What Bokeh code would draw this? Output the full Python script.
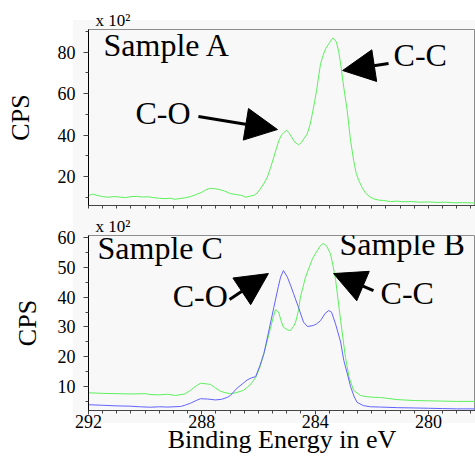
import numpy as np
from bokeh.plotting import figure
from bokeh.layouts import column
from bokeh.models import Range1d, FixedTicker, Label, Arrow, NormalHead, Title
from bokeh.embed import file_html
from bokeh.resources import INLINE

# ---------------- data ----------------
# Sample A (top panel), binding energy (eV) and counts (x 10^2 CPS)
a_energy = [292.00, 291.85, 291.70, 291.50, 291.30, 291.10, 290.90, 290.70, 290.50, 290.30,
            290.10, 289.90, 289.70, 289.50, 289.30, 289.10, 288.95, 288.80, 288.60, 288.40,
            288.20, 288.00, 287.85, 287.70, 287.55, 287.40, 287.20, 287.00, 286.80, 286.60,
            286.45, 286.30, 286.15, 286.05, 285.95, 285.80, 285.69, 285.58, 285.46, 285.37,
            285.28, 285.18, 285.06, 285.00, 284.93, 284.85, 284.72, 284.58, 284.48, 284.40,
            284.28, 284.18, 284.10, 284.02, 283.95, 283.88, 283.81, 283.72, 283.63, 283.55,
            283.48, 283.38, 283.32, 283.25, 283.17, 283.10, 282.99, 282.87, 282.75, 282.64,
            282.55, 282.46, 282.34, 282.22, 282.08, 281.93, 281.75, 281.58, 281.34, 281.10,
            280.90, 280.60, 280.30, 280.00, 279.70, 279.40, 279.10, 278.80, 278.34]
a_counts = [10.8, 11.5, 10.9, 10.3, 10.0, 10.3, 10.1, 9.8, 10.3, 10.4,
            10.1, 10.2, 9.8, 9.5, 9.3, 9.5, 9.0, 9.3, 9.7, 10.3,
            11.3, 12.4, 13.6, 14.3, 14.1, 13.8, 13.0, 11.8, 11.3, 10.9,
            10.0, 10.5, 11.0, 12.0, 13.8, 16.8, 19.6, 24.0, 29.3, 33.5,
            37.4, 40.2, 41.8, 42.3, 41.2, 39.5, 36.6, 35.3, 36.5, 38.2,
            40.6, 45.0, 50.3, 56.0, 61.5, 68.0, 74.4, 78.5, 81.7, 83.5,
            84.9, 86.8, 86.3, 84.9, 80.5, 74.4, 63.1, 51.9, 37.4, 27.7,
            21.5, 18.1, 14.6, 12.0, 10.3, 9.2, 8.6, 8.4, 7.9, 8.1,
            7.8, 7.9, 7.6, 7.7, 7.5, 7.6, 7.3, 7.4, 7.2]

# Sample B (bottom panel, green)
b_energy = [292.00, 291.50, 291.00, 290.50, 290.00, 289.80, 289.50, 289.20, 288.93, 288.60,
            288.40, 288.20, 288.05, 287.85, 287.69, 287.52, 287.34, 287.16, 286.99, 286.80,
            286.53, 286.30, 286.10, 285.95, 285.81, 285.70, 285.58, 285.47, 285.40, 285.29,
            285.20, 285.12, 284.98, 284.87, 284.76, 284.69, 284.59, 284.52, 284.34, 284.09,
            283.90, 283.81, 283.71, 283.60, 283.46, 283.37, 283.28, 283.10, 282.93, 282.80,
            282.64, 282.40, 282.20, 281.95, 281.69, 281.09, 280.50, 280.00, 279.50, 279.00, 278.34]
b_counts = [7.9, 7.7, 7.6, 7.5, 7.6, 7.3, 7.2, 7.4, 7.0, 7.5,
            8.7, 10.2, 11.1, 10.9, 10.7, 9.5, 8.4, 7.9, 7.6, 7.9,
            8.7, 10.5, 13.0, 16.5, 21.0, 25.0, 29.5, 33.5, 35.8, 35.0,
            32.0, 29.9, 29.0, 28.8, 30.2, 31.6, 35.5, 40.0, 46.7, 53.0,
            56.0, 57.3, 58.0, 57.2, 54.6, 50.5, 46.0, 32.1, 19.8, 13.0,
            8.7, 7.0, 6.6, 6.4, 6.3, 5.6, 5.3, 5.2, 5.1, 5.0, 5.0]

# Sample C (bottom panel, blue)
c_energy = [292.00, 291.50, 291.00, 290.52, 290.20, 289.81, 289.50, 289.20, 288.75, 288.60,
            288.40, 288.20, 288.05, 287.80, 287.52, 287.30, 287.09, 286.99, 286.75, 286.55,
            286.40, 286.25, 286.10, 285.95, 285.81, 285.65, 285.46, 285.30, 285.22, 285.12,
            284.98, 284.87, 284.76, 284.59, 284.41, 284.27, 284.06, 283.95, 283.81, 283.65,
            283.52, 283.42, 283.28, 283.10, 282.99, 282.87, 282.75, 282.62, 282.52, 282.30,
            282.05, 281.69, 281.09, 280.50, 280.00, 279.50, 279.00, 278.34]
c_counts = [3.9, 3.7, 3.5, 3.4, 3.2, 3.05, 3.2, 3.1, 3.3, 3.7,
            4.4, 5.3, 5.9, 5.8, 5.5, 5.7, 6.4, 7.0, 9.5, 11.0,
            12.2, 12.9, 13.3, 17.0, 21.0, 28.0, 36.5, 43.5, 46.7, 48.9,
            46.7, 44.0, 41.1, 36.6, 31.6, 30.1, 30.5, 31.0, 32.1, 34.5,
            35.5, 34.9, 31.0, 24.9, 18.8, 14.5, 10.0, 6.5, 4.7, 3.6,
            3.2, 3.1, 2.9, 2.8, 2.7, 2.6, 2.5, 2.5]

x_major = [292, 288, 284, 280]
x_minor = [292 - 0.5 * i for i in range(28)]
top_y_major = [20, 40, 60, 80]
top_y_minor = [10, 30, 50, 70, 90]
bot_y_major = [10, 20, 30, 40, 50, 60]
bot_y_minor = [5, 15, 25, 35, 45, 55]

x_label = "Binding Energy in eV"
y_label = "CPS"
scale_text = "x 10\u00b2"

# annotation texts / anchors (data coordinates of each panel)
top_texts = [("Sample A", 291.47, 74.6), ("C-O", 290.34, 42.2), ("C-C", 281.23, 70.2)]
top_arrows = [(288.12, 49.0, 285.33, 42.7), (281.41, 74.6, 283.03, 71.2)]
bot_texts = [("Sample C", 291.68, 50.4), ("C-O", 289.03, 34.2),
             ("Sample B", 283.14, 51.9), ("C-C", 281.69, 35.2)]
bot_arrows = [(287.02, 39.2, 285.65, 47.9), (281.94, 42.2, 283.35, 47.9)]

FONT = "Liberation Serif"
GREEN = "#5cf05c"
BLUE = "#6262ff"
PANEL = "#f8f8f8"
AXIS = "#444444"


def make_fig(height, yr, btop, bbot, ymaj, ymin, show_xlabels, bg_top, bg_h, cps_standoff):
    bg = (f"linear-gradient({PANEL},{PANEL}) 73px {bg_top}px / 402px {bg_h}px no-repeat, #ffffff")
    p = figure(width=475, height=height,
               x_range=Range1d(292, 278.34), y_range=Range1d(*yr),
               output_backend="svg", toolbar_location=None,
               min_border_left=88, min_border_right=0,
               min_border_top=btop, min_border_bottom=bbot,
               styles={"background": bg})
    p.background_fill_color = PANEL
    p.border_fill_color = None
    p.outline_line_color = "#8c8c8c"
    p.grid.visible = False

    xa = p.xaxis[0]
    if show_xlabels:
        xa.ticker = FixedTicker(ticks=x_major, minor_ticks=x_minor)
    else:
        xa.ticker = FixedTicker(ticks=[], minor_ticks=x_minor)
    xa.axis_line_color = AXIS
    xa.major_tick_line_color = AXIS
    xa.minor_tick_line_color = AXIS
    xa.major_tick_out = 4
    xa.major_tick_in = 0
    xa.minor_tick_out = 3
    xa.minor_tick_in = 0
    xa.major_label_text_font = FONT
    xa.major_label_text_color = "black"
    xa.major_label_standoff = 0
    xa.major_label_text_font_size = "18px"

    ya = p.yaxis[0]
    ya.ticker = FixedTicker(ticks=ymaj, minor_ticks=ymin)
    ya.axis_line_color = "black"
    ya.major_tick_line_color = AXIS
    ya.minor_tick_line_color = AXIS
    ya.major_tick_out = 5
    ya.major_tick_in = 0
    ya.minor_tick_out = 3
    ya.minor_tick_in = 0
    ya.major_label_text_font = FONT
    ya.major_label_text_font_size = "18px"
    ya.major_label_text_color = "black"
    ya.major_label_standoff = 8
    ya.axis_label = y_label
    ya.axis_label_text_font = FONT
    ya.axis_label_text_font_size = "26px"
    ya.axis_label_text_font_style = "normal"
    ya.axis_label_text_color = "black"
    ya.axis_label_standoff = cps_standoff

    p.add_layout(Title(text=scale_text, align="left", offset=7, standoff=0,
                       text_font=FONT, text_font_size="17px",
                       text_font_style="normal", text_color="black"), "above")
    return p


def lab(p, text, x, y, size, **kw):
    p.add_layout(Label(x=x, y=y, text=text, text_font=FONT, text_font_size=size,
                       text_color="black", **kw))


def arrow(p, xs, ys, xe, ye):
    p.add_layout(Arrow(end=NormalHead(size=32, fill_color="black", line_color="black"),
                       x_start=xs, y_start=ys, x_end=xe, y_end=ye,
                       line_width=3, line_color="black"))


# ---------------- top panel ----------------
top = make_fig(209, (6, 91), 29, 4, top_y_major, top_y_minor, False, 20, 189, 20)
top.line(a_energy, a_counts, line_color=GREEN, line_width=1)
for t, x, y in top_texts:
    lab(top, t, x, y, "32px")
for xs, ys, xe, ye in top_arrows:
    arrow(top, xs, ys, xe, ye)

# ---------------- bottom panel ----------------
bot = make_fig(250, (1.95, 60.67), 26, 49, bot_y_major, bot_y_minor, True, 0, 214, 13)
bot.line(b_energy, b_counts, line_color=GREEN, line_width=1)
bot.line(c_energy, c_counts, line_color=BLUE, line_width=1)
for t, x, y in bot_texts:
    lab(bot, t, x, y, "32px")
for xs, ys, xe, ye in bot_arrows:
    arrow(bot, xs, ys, xe, ye)
xa = bot.xaxis[0]
xa.axis_label = x_label
xa.axis_label_text_font = FONT
xa.axis_label_text_font_size = "26px"
xa.axis_label_text_font_style = "normal"
xa.axis_label_text_color = "black"
xa.axis_label_standoff = -6

layout = column(top, bot)
open("out.html", "w").write(file_html(layout, INLINE))
